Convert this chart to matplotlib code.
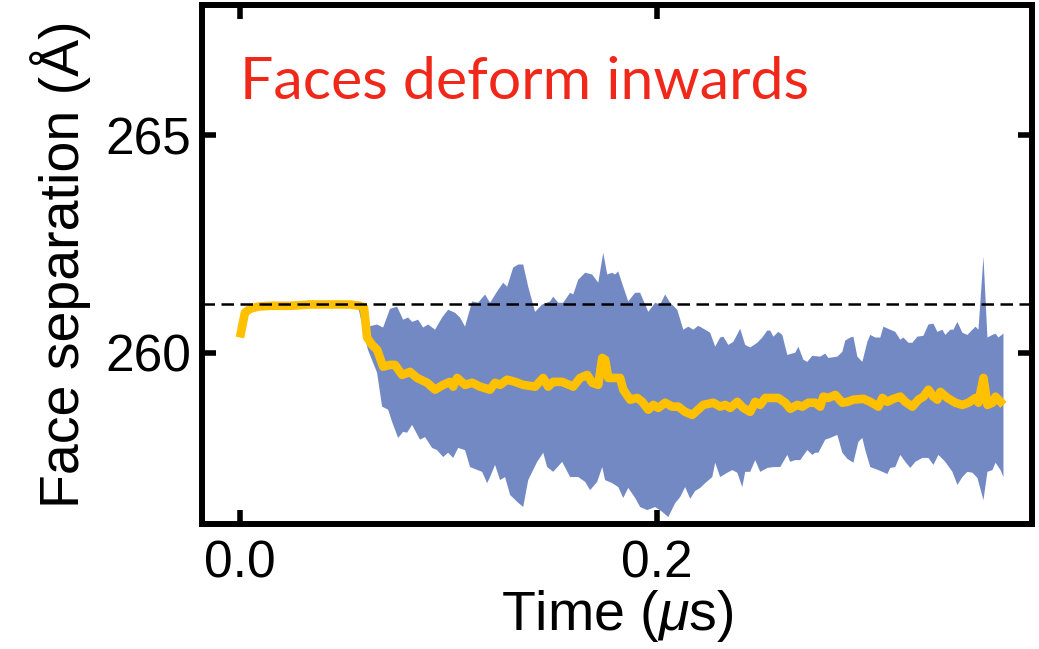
import matplotlib
matplotlib.use("Agg")
import matplotlib.pyplot as plt

plt.rcParams["font.family"] = ["Liberation Sans", "DejaVu Sans"]
plt.rcParams["mathtext.fontset"] = "custom"
plt.rcParams["mathtext.it"] = "Liberation Sans:italic"
plt.rcParams["mathtext.rm"] = "Liberation Sans"

# Mean face separation (Å) over simulation time (µs)
time_mean = [0.0, 0.0024, 0.0048, 0.0086, 0.0144, 0.0240, 0.0336, 0.0432, 0.0528, 0.0576,
             0.0595, 0.0610, 0.0634, 0.0658, 0.0687, 0.0720, 0.0744, 0.0778, 0.0816, 0.0850,
             0.0898, 0.0936, 0.0975, 0.1008, 0.1023, 0.1042, 0.1080, 0.1114, 0.1152, 0.1200,
             0.1224, 0.1248, 0.1282, 0.1320, 0.1359, 0.1416, 0.1455, 0.1479, 0.1503, 0.1546,
             0.1599, 0.1632, 0.1666, 0.1690, 0.1719, 0.1738, 0.1752, 0.1767, 0.1791, 0.1824,
             0.1839, 0.1872, 0.1906, 0.1930, 0.1959, 0.1983, 0.2007, 0.2040, 0.2074, 0.2103,
             0.2136, 0.2170, 0.2223, 0.2271, 0.2304, 0.2328, 0.2352, 0.2386, 0.2415, 0.2448,
             0.2472, 0.2496, 0.2520, 0.2554, 0.2583, 0.2616, 0.2640, 0.2674, 0.2698, 0.2727,
             0.2760, 0.2784, 0.2799, 0.2823, 0.2856, 0.2890, 0.2914, 0.2943, 0.2991, 0.3024,
             0.3063, 0.3082, 0.3106, 0.3135, 0.3168, 0.3192, 0.3226, 0.3255, 0.3279, 0.3303,
             0.3327, 0.3346, 0.3360, 0.3394, 0.3432, 0.3466, 0.3495, 0.3529, 0.3543, 0.3567,
             0.3586, 0.3610, 0.3625, 0.3663]
sep_mean = [260.35, 260.92, 261.01, 261.06, 261.08, 261.08, 261.11, 261.11, 261.11, 261.08,
            261.04, 260.35, 260.18, 260.07, 259.68, 259.72, 259.72, 259.49, 259.56, 259.42,
            259.31, 259.15, 259.26, 259.33, 259.22, 259.42, 259.26, 259.31, 259.22, 259.15,
            259.31, 259.26, 259.38, 259.33, 259.26, 259.22, 259.42, 259.22, 259.33, 259.33,
            259.22, 259.42, 259.49, 259.31, 259.26, 259.88, 259.84, 259.42, 259.42, 259.42,
            259.15, 258.92, 258.96, 258.87, 258.69, 258.80, 258.73, 258.85, 258.76, 258.76,
            258.64, 258.57, 258.80, 258.85, 258.76, 258.80, 258.73, 258.87, 258.73, 258.64,
            258.87, 258.80, 258.96, 258.96, 258.96, 258.85, 258.71, 258.80, 258.76, 258.85,
            258.85, 258.76, 258.99, 258.96, 259.03, 258.85, 258.87, 258.92, 258.94, 258.87,
            258.76, 258.96, 258.87, 258.94, 258.99, 258.87, 258.76, 258.92, 258.99, 259.15,
            258.99, 258.92, 259.10, 258.96, 258.85, 258.80, 258.85, 258.96, 258.85, 259.42,
            258.80, 258.85, 258.99, 258.80]

# Upper edge of the spread band
time_upper = [0.0566, 0.0614, 0.0658, 0.0687, 0.0720, 0.0754, 0.0783, 0.0807, 0.0826, 0.0855,
              0.0879, 0.0903, 0.0936, 0.0970, 0.0999, 0.1032, 0.1056, 0.1080, 0.1114, 0.1143,
              0.1176, 0.1200, 0.1234, 0.1263, 0.1282, 0.1311, 0.1335, 0.1359, 0.1383, 0.1416,
              0.1450, 0.1488, 0.1503, 0.1527, 0.1551, 0.1584, 0.1599, 0.1623, 0.1656, 0.1690,
              0.1719, 0.1743, 0.1762, 0.1786, 0.1800, 0.1815, 0.1839, 0.1863, 0.1896, 0.1920,
              0.1959, 0.1992, 0.2016, 0.2040, 0.2064, 0.2098, 0.2127, 0.2151, 0.2175, 0.2199,
              0.2232, 0.2256, 0.2280, 0.2304, 0.2319, 0.2343, 0.2367, 0.2400, 0.2424, 0.2448,
              0.2482, 0.2506, 0.2530, 0.2544, 0.2559, 0.2583, 0.2602, 0.2626, 0.2664, 0.2679,
              0.2703, 0.2722, 0.2746, 0.2784, 0.2808, 0.2823, 0.2866, 0.2890, 0.2904, 0.2928,
              0.2943, 0.2962, 0.2986, 0.3010, 0.3024, 0.3048, 0.3072, 0.3087, 0.3120, 0.3144,
              0.3168, 0.3183, 0.3207, 0.3226, 0.3250, 0.3279, 0.3303, 0.3327, 0.3346, 0.3370,
              0.3384, 0.3408, 0.3423, 0.3442, 0.3466, 0.3490, 0.3514, 0.3529, 0.3543, 0.3567,
              0.3586, 0.3610, 0.3625, 0.3639, 0.3663]
sep_upper = [261.08, 260.60, 260.65, 260.58, 261.01, 261.06, 260.76, 260.81, 260.71, 260.76,
             260.58, 260.65, 260.53, 260.81, 260.99, 260.92, 260.81, 260.60, 261.18, 261.15,
             261.34, 261.15, 261.41, 261.61, 261.52, 261.96, 262.03, 262.03, 261.52, 260.94,
             261.11, 261.18, 261.29, 261.15, 261.15, 261.38, 261.34, 261.68, 261.84, 261.80,
             261.61, 262.30, 261.80, 261.84, 261.80, 261.87, 261.52, 261.18, 261.38, 261.38,
             260.94, 261.15, 261.11, 261.34, 261.15, 260.99, 260.53, 260.60, 260.53, 260.62,
             260.53, 260.46, 260.14, 260.35, 260.37, 260.18, 260.25, 260.55, 260.18, 260.12,
             260.23, 260.35, 260.51, 260.51, 260.37, 260.48, 260.41, 259.95, 260.00, 260.14,
             259.84, 259.79, 259.93, 259.91, 259.98, 259.88, 259.91, 260.02, 260.28, 260.35,
             260.37, 259.91, 259.79, 260.25, 260.41, 260.35, 260.35, 260.60, 260.53, 260.48,
             260.30, 260.35, 260.23, 260.23, 260.37, 260.39, 260.65, 260.67, 260.48, 260.53,
             260.41, 260.53, 260.53, 260.71, 260.46, 260.41, 260.53, 260.60, 260.53, 262.21,
             260.35, 260.41, 260.44, 260.35, 260.44]

# Lower edge of the spread band
time_lower = [0.0566, 0.0614, 0.0658, 0.0682, 0.0711, 0.0730, 0.0759, 0.0783, 0.0802, 0.0826,
              0.0864, 0.0888, 0.0922, 0.0946, 0.0975, 0.0999, 0.1023, 0.1047, 0.1080, 0.1104,
              0.1162, 0.1186, 0.1200, 0.1224, 0.1248, 0.1272, 0.1296, 0.1330, 0.1359, 0.1383,
              0.1426, 0.1455, 0.1474, 0.1503, 0.1546, 0.1584, 0.1623, 0.1656, 0.1680, 0.1714,
              0.1738, 0.1752, 0.1786, 0.1815, 0.1839, 0.1863, 0.1896, 0.1920, 0.1954, 0.1992,
              0.2026, 0.2055, 0.2088, 0.2112, 0.2136, 0.2160, 0.2184, 0.2208, 0.2232, 0.2266,
              0.2280, 0.2304, 0.2338, 0.2362, 0.2386, 0.2410, 0.2424, 0.2448, 0.2472, 0.2496,
              0.2530, 0.2559, 0.2592, 0.2626, 0.2640, 0.2664, 0.2688, 0.2722, 0.2746, 0.2760,
              0.2775, 0.2808, 0.2832, 0.2866, 0.2890, 0.2914, 0.2943, 0.2967, 0.2986, 0.3000,
              0.3024, 0.3063, 0.3106, 0.3120, 0.3144, 0.3168, 0.3192, 0.3216, 0.3240, 0.3274,
              0.3303, 0.3327, 0.3351, 0.3384, 0.3418, 0.3442, 0.3466, 0.3490, 0.3514, 0.3538,
              0.3567, 0.3586, 0.3610, 0.3625, 0.3649, 0.3663]
sep_lower = [261.08, 260.07, 259.54, 258.76, 258.69, 258.41, 258.04, 258.18, 258.16, 258.34,
             258.00, 258.06, 257.81, 257.76, 257.60, 257.70, 257.58, 257.81, 257.76, 257.37,
             257.26, 257.00, 257.14, 257.42, 257.07, 257.14, 256.73, 256.57, 256.45, 257.07,
             257.49, 257.70, 257.37, 257.26, 257.49, 257.14, 257.14, 257.03, 256.84, 257.03,
             257.37, 257.07, 257.00, 256.91, 256.66, 256.89, 256.66, 256.45, 256.38, 256.45,
             256.34, 256.22, 256.54, 256.68, 256.91, 256.64, 256.82, 256.89, 257.00, 257.14,
             257.47, 257.14, 257.24, 257.30, 257.24, 256.91, 257.26, 257.26, 257.53, 257.26,
             257.35, 257.37, 257.37, 257.65, 257.49, 257.53, 257.53, 257.76, 257.65, 257.70,
             257.70, 258.00, 258.04, 258.11, 257.70, 257.56, 257.47, 257.95, 258.04, 257.76,
             257.37, 257.30, 257.21, 257.35, 257.37, 257.65, 257.49, 257.35, 257.49, 257.58,
             257.58, 257.42, 257.65, 257.49, 257.26, 256.96, 257.14, 257.26, 257.24, 257.12,
             256.61, 257.26, 257.30, 257.47, 257.30, 257.14]

reference_sep = 261.11
x_ticks = [0.0, 0.2]
y_ticks = [260, 265]

fig = plt.figure(figsize=(10.39, 6.49), dpi=100)
ax = fig.add_axes([0.1944, 0.1926, 0.7989, 0.7997])

# Spread band as a closed polygon: upper edge forward, lower edge back
band_x = list(time_upper) + list(time_lower[::-1])
band_y = list(sep_upper) + list(sep_lower[::-1])
ax.fill(band_x, band_y, color="#7289c4", linewidth=0, zorder=1)

ax.plot(time_mean, sep_mean, color="#ffc000", linewidth=6.2,
        solid_joinstyle="round", solid_capstyle="butt", zorder=2)
ax.axhline(reference_sep, color="black", linewidth=1.8,
           dashes=(5, 2.6), zorder=3)

ax.text(0.0, 265.84, "Faces deform inwards", color="#f0281a",
        fontsize=42.5, family=["Lato", "DejaVu Sans"], va="baseline", ha="left")

ax.set_xlim(-0.0182, 0.380)
ax.set_ylim(256.06, 268.0)
ax.set_xticks(x_ticks)
ax.set_xticklabels([f"{v:.1f}" for v in x_ticks])
ax.set_yticks(y_ticks)
ax.set_yticklabels([str(v) for v in y_ticks])

ax.tick_params(direction="in", length=10, width=4, labelsize=37,
               top=True, right=True, pad=8)
ax.tick_params(axis="x", pad=11)
for s in ax.spines.values():
    s.set_linewidth(4.3)

ax.set_xlabel("Time ($\\mu$s)", fontsize=40, labelpad=0)
ax.set_ylabel("Face separation (Å)", fontsize=40, labelpad=10)

fig.savefig("out.png", dpi=100)
